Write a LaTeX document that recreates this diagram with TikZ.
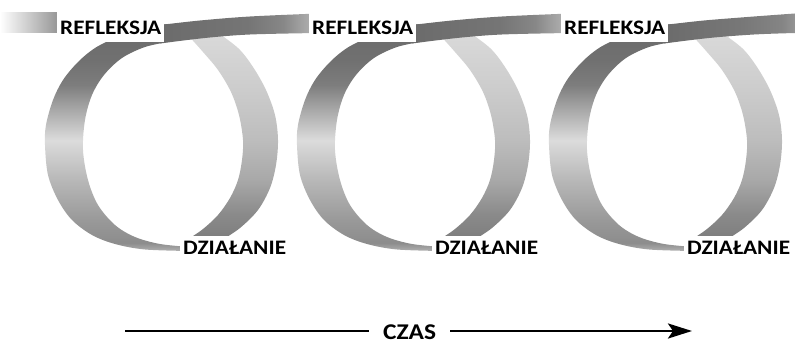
\documentclass[tikz,border=0pt]{standalone}
\usepackage{fontspec}
\setmainfont{Carlito}[FakeStretch=1.13]
\usetikzlibrary{arrows.meta}

% grey ramps for the ribbon (the path box maps onto 25bp..75bp)
\pgfdeclareverticalshading{leftarcshade}{100bp}{gray(0bp)=(0.69); gray(25bp)=(0.69); gray(26.8bp)=(0.55); gray(31.8bp)=(0.60); gray(40.6bp)=(0.72); gray(49.4bp)=(0.86); gray(56.1bp)=(0.66); gray(61.6bp)=(0.49); gray(67.1bp)=(0.44); gray(75bp)=(0.42); gray(100bp)=(0.42)}
\pgfdeclareverticalshading{rightarcshade}{100bp}{gray(0bp)=(0.49); gray(25bp)=(0.49); gray(31bp)=(0.54); gray(39.3bp)=(0.66); gray(48.8bp)=(0.74); gray(60.7bp)=(0.80); gray(75bp)=(0.855); gray(100bp)=(0.855)}
\pgfdeclarehorizontalshading{bandshade}{100bp}{gray(0bp)=(0.42); gray(25bp)=(0.42); gray(53bp)=(0.46); gray(64bp)=(0.53); gray(69bp)=(0.62); gray(75bp)=(0.72); gray(100bp)=(0.72)}
\pgfdeclarehorizontalshading{lastbandshade}{100bp}{gray(0bp)=(0.42); gray(25bp)=(0.42); gray(55bp)=(0.47); gray(70bp)=(0.52); gray(75bp)=(0.58); gray(100bp)=(0.58)}

\begin{document}
\begin{tikzpicture}[x=1pt,y=-1pt,
  lbltop/.style={fill=white, inner ysep=0pt, inner xsep=3pt, anchor=base west,
    font=\bfseries\fontsize{20.6}{24}\selectfont, text height=25pt, text depth=7pt},
  lblbot/.style={lbltop, text height=19pt, text depth=7pt},
  timelabel/.style={inner ysep=0pt, inner xsep=14pt, anchor=base west,
    font=\bfseries\fontsize{22.5}{27}\selectfont},
  timeline/.style={line width=2.8pt, black}]
\useasboundingbox (0,0) rectangle (795,344);

% ribbon entering from the left, fading in from white
\shade[left color=white, middle color=black!27, right color=black!44] (0,13) rectangle (62,33);

\foreach \k/\bend/\bshade in {0/318/bandshade, 1/318/bandshade, 2/291/lastbandshade}{
  \begin{scope}[xshift=\k*252pt]
    % front (light) half of the loop
    \shade[shading=rightarcshade]
      plot[smooth, tension=0.55] coordinates {(214,30) (238,48) (253,67) (266,90) (275,115) (278,140) (276,165) (270,188) (258,210) (240,228) (222,240)}
      -- plot[smooth, tension=0.55] coordinates {(187,240) (203,229) (218,215) (230,198) (238,180) (242,160) (243,140) (239,115) (231,92) (218,70) (203,52) (186,33)}
      -- cycle;
    % back (shaded) half of the loop
    \shade[shading=leftarcshade]
      plot[smooth, tension=0.55] coordinates {(168,24) (140,28) (117,37) (95,48) (78,62) (63,80) (53,100) (46,125) (45,145) (48,175) (58,200) (72,220) (92,235) (115,244) (145,249.5) (190,251)}
      -- plot[smooth, tension=0.55] coordinates {(190,247) (160,244) (135,237) (115,225) (98,205) (88,180) (83,150) (85,120) (92,95) (104,75) (122,58) (145,47) (168,42)}
      -- cycle;
    % ribbon rising out of the loop towards the next one
    \shade[shading=\bshade]
      plot[smooth, tension=0.55] coordinates {(160,25) (200,20.5) (250,16.5) (\bend,13.5)}
      -- plot[smooth, tension=0.55] coordinates {(\bend,33) (250,34.5) (205,38) (160,43.5)}
      -- cycle;
  \end{scope}
}

% labels on the ribbon
\foreach \k in {0,1,2}{
  \node[lbltop] (refl\k) at ({57+252*\k},35) {REFLEKSJA};
  \node[lblbot] (dzial\k) at ({180+252*\k},255) {DZIAŁANIE};
}

% time axis
\coordinate (tstart) at (125,331);
\coordinate (tend) at (692,331);
\node[timelabel] (czas) at (369,339.5) {CZAS};
\draw[timeline] (tstart) -- (tstart -| czas.west);
\draw[timeline, -{Stealth[length=24pt, width=15pt, inset=5pt]}] (czas.east |- tend) -- (tend);
\end{tikzpicture}
\end{document}
